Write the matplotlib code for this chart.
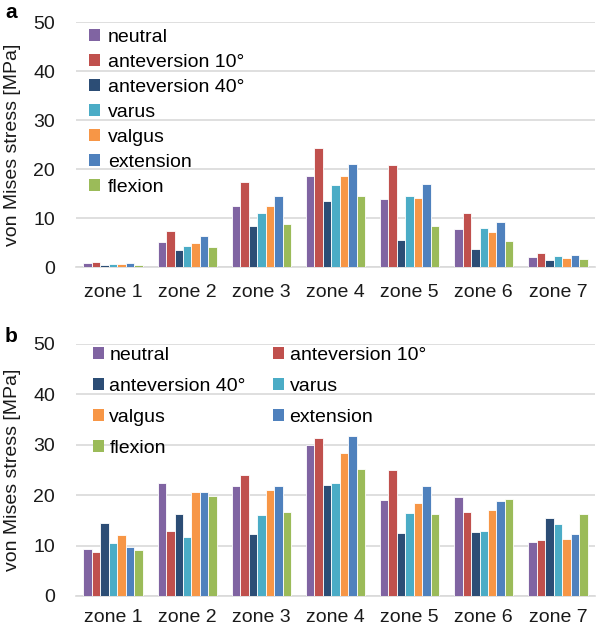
import numpy as np
import matplotlib
matplotlib.use("Agg")
import matplotlib.pyplot as plt
from matplotlib.patches import Patch

plt.rcParams['font.family'] = ['Liberation Sans', 'DejaVu Sans']

zones = ['zone 1', 'zone 2', 'zone 3', 'zone 4', 'zone 5', 'zone 6', 'zone 7']
series = ['neutral', 'anteversion 10°', 'anteversion 40°', 'varus', 'valgus', 'extension', 'flexion']
colors = ['#8064A2', '#C0504D', '#2C4D75', '#4BACC6', '#F79646', '#4F81BD', '#9BBB59']

# panel a
neutral_a = [0.8, 5.2, 12.5, 18.5, 13.8, 7.7, 2.1]
ant10_a = [1.1, 7.4, 17.3, 24.2, 20.8, 11.1, 2.8]
ant40_a = [0.5, 3.4, 8.4, 13.5, 5.5, 3.6, 1.4]
varus_a = [0.6, 4.3, 11.1, 16.7, 14.4, 7.9, 2.2]
valgus_a = [0.6, 4.8, 12.5, 18.6, 14.1, 7.1, 1.9]
ext_a = [0.9, 6.3, 14.4, 21.0, 17.0, 9.1, 2.4]
flex_a = [0.4, 4.1, 8.8, 14.4, 8.4, 5.3, 1.6]

# panel b
neutral_b = [9.35, 22.4, 21.8, 29.9, 19.1, 19.7, 10.75]
ant10_b = [8.8, 12.9, 24.0, 31.3, 25.0, 16.6, 11.1]
ant40_b = [14.5, 16.2, 12.3, 22.1, 12.5, 12.7, 15.5]
varus_b = [10.5, 11.8, 16.0, 22.5, 16.4, 12.9, 14.3]
valgus_b = [12.1, 20.6, 21.1, 28.4, 18.4, 17.1, 11.3]
ext_b = [9.7, 20.6, 21.8, 31.7, 21.8, 18.9, 12.4]
flex_b = [9.15, 19.9, 16.7, 25.1, 16.3, 19.2, 16.3]

data_a = [neutral_a, ant10_a, ant40_a, varus_a, valgus_a, ext_a, flex_a]
data_b = [neutral_b, ant10_b, ant40_b, varus_b, valgus_b, ext_b, flex_b]

W, H = 597, 630
FS = 14
fig = plt.figure(figsize=(W / 100, H / 100), dpi=100)


def draw(ax, data, xpad):
    x = np.arange(len(zones))
    bw = 0.8 / len(series)
    for i, vals in enumerate(data):
        ax.bar(x - 0.4 + bw * (i + 0.5), vals, bw, color=colors[i],
               edgecolor='white', linewidth=0.6, zorder=3)
    ax.set_xlim(-0.5, len(zones) - 0.5)
    ax.set_ylim(0, 50)
    ax.set_yticks([0, 10, 20, 30, 40, 50])
    ax.set_xticks(x)
    ax.set_xticklabels(zones)
    ax.grid(axis='y', color='#d9d9d9', linewidth=1.2, zorder=0)
    for s in ['top', 'right', 'left']:
        ax.spines[s].set_visible(False)
    ax.spines['bottom'].set_color('#d9d9d9')
    ax.spines['bottom'].set_linewidth(1.2)
    ax.tick_params(length=0, labelsize=FS, colors='#1a1a1a')
    ax.tick_params(axis='x', pad=xpad)
    ax.tick_params(axis='y', pad=15)
    ax.set_ylabel('von Mises stress [MPa]', fontsize=FS, color='#1a1a1a', labelpad=9)


handles = [Patch(facecolor=c, edgecolor='none') for c in colors]

ax1 = fig.add_axes([76 / W, (H - 267) / H, 519 / W, 245 / H])
draw(ax1, data_a, 12)
ax1.legend(handles, series, loc='upper left', bbox_to_anchor=(0.003, 1.02), frameon=False,
           fontsize=FS, handlelength=0.55, handleheight=0.55, handletextpad=0.4,
           labelspacing=0.41, borderaxespad=0.2)

ax2 = fig.add_axes([76 / W, (H - 596) / H, 519 / W, 252 / H])
draw(ax2, data_b, 9)
# two-column legend filled row by row like the original
order = [0, 2, 4, 6, 1, 3, 5]
ax2.legend([handles[i] for i in order], [series[i] for i in order], loc='upper left',
           bbox_to_anchor=(0.01, 1.035), ncol=2, frameon=False,
           fontsize=FS, handlelength=0.55, handleheight=0.55, handletextpad=0.3,
           labelspacing=0.72, columnspacing=1.4, borderaxespad=0.2)

fig.text(5 / W, 1 - 12 / H, 'a', fontsize=15, fontweight='bold', va='center')
fig.text(5 / W, 1 - 336 / H, 'b', fontsize=15, fontweight='bold', va='center')

fig.savefig('out.png', dpi=100)
